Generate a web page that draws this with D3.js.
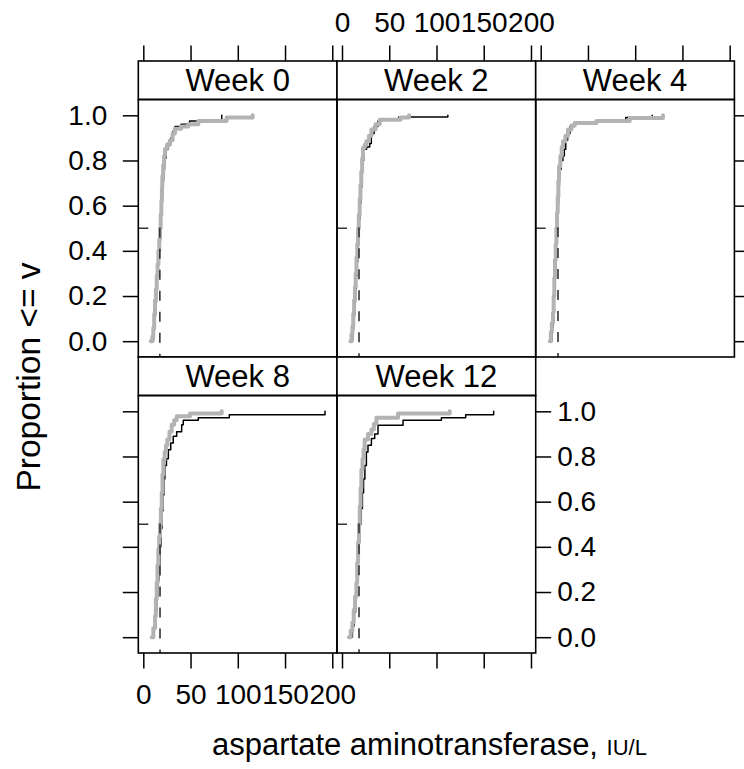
<!DOCTYPE html>
<html>
<head>
<meta charset="utf-8">
<script src="https://cdn.jsdelivr.net/npm/d3@7"></script>
<style>
  html, body { margin: 0; padding: 0; background: #fff; }
  svg { display: block; font-family: "Liberation Sans", Arial, Helvetica, sans-serif; }
</style>
</head>
<body>
<svg id="chart" width="744" height="769"></svg>
<script>
// Panels (conditioning levels), in reading order
const panels = ["Week 0", "Week 2", "Week 4", "Week 8", "Week 12"];

// Axis ticks
const xTicks = [0, 50, 100, 150, 200];
const yTicks = [0, 0.2, 0.4, 0.6, 0.8, 1.0];

// Median value per panel (dashed reference at proportion 0.5)
const medians = [17.5, 18.0, 18.3, 17.7, 18.0];

// Empirical CDF knots, group 1 (black): values (IU/L) and cumulative proportions
const blackX = [
  [9.0, 10.8, 11.8, 12.8, 13.8, 14.7, 15.6, 16.5, 17.4, 18.2, 19.0, 19.8, 20.6, 21.5, 22.5, 24.0, 26.5, 29.0, 31.5, 33.5, 40.0, 49.0, 83.0],
  [9.5, 11.2, 12.2, 13.2, 14.1, 15.0, 15.8, 16.6, 17.4, 18.2, 19.1, 20.0, 21.0, 21.5, 23.0, 26.0, 29.3, 31.0, 34.0, 38.0, 40.0, 60.0, 112.0],
  [10.2, 11.8, 13.3, 14.1, 14.9, 15.7, 16.5, 17.3, 18.1, 18.9, 19.8, 21.5, 23.5, 25.0, 26.5, 28.5, 31.0, 36.0, 63.5, 90.0, 118.0],
  [9.5, 11.5, 13.0, 14.2, 15.3, 16.4, 17.5, 18.6, 19.7, 20.8, 21.8, 22.8, 24.5, 26.5, 29.0, 31.7, 35.3, 40.6, 42.3, 58.2, 91.0, 192.3],
  [8.5, 11.0, 12.8, 14.3, 15.6, 16.8, 18.0, 19.2, 20.4, 21.6, 22.8, 24.2, 25.8, 27.5, 31.1, 34.6, 38.1, 64.6, 105.2, 130.9, 160.5]
];
const blackP = [
  [0, 0.05, 0.11, 0.17, 0.23, 0.29, 0.35, 0.41, 0.47, 0.53, 0.59, 0.65, 0.71, 0.76, 0.81, 0.85, 0.88, 0.90, 0.93, 0.95, 0.96, 0.975, 1.0],
  [0, 0.05, 0.11, 0.17, 0.23, 0.29, 0.35, 0.42, 0.48, 0.54, 0.61, 0.68, 0.74, 0.80, 0.85, 0.86, 0.875, 0.92, 0.95, 0.975, 0.981, 0.993, 1.0],
  [0, 0.06, 0.13, 0.21, 0.29, 0.37, 0.45, 0.53, 0.61, 0.69, 0.76, 0.80, 0.82, 0.85, 0.89, 0.92, 0.95, 0.969, 0.98, 0.99, 1.0],
  [0, 0.05, 0.11, 0.18, 0.25, 0.32, 0.40, 0.48, 0.56, 0.63, 0.70, 0.76, 0.79, 0.83, 0.86, 0.89, 0.91, 0.94, 0.96, 0.971, 0.985, 1.0],
  [0, 0.05, 0.11, 0.18, 0.26, 0.34, 0.42, 0.50, 0.57, 0.64, 0.70, 0.76, 0.82, 0.85, 0.88, 0.90, 0.938, 0.96, 0.971, 0.985, 1.0]
];

// Empirical CDF knots, group 2 (grey)
const grayX = [
  [7.8, 9.5, 10.6, 11.5, 12.4, 13.3, 14.2, 15.1, 16.0, 16.9, 17.7, 18.4, 19.1, 19.7, 20.1, 21.0, 22.0, 22.9, 25.0, 28.2, 31.0, 33.5, 40.0, 47.6, 58.2, 88.2, 115.7],
  [8.9, 10.0, 11.0, 11.9, 12.8, 13.7, 14.5, 15.3, 16.2, 17.0, 17.8, 18.7, 19.5, 20.4, 21.3, 22.2, 24.0, 25.8, 28.5, 31.1, 35.5, 39.9, 62.0, 70.9],
  [9.5, 10.7, 11.8, 13.0, 13.7, 14.4, 15.1, 15.9, 16.6, 17.3, 18.0, 18.7, 19.4, 20.8, 22.2, 23.6, 26.2, 28.9, 32.5, 36.0, 58.9, 94.2, 129.4],
  [8.9, 10.6, 12.4, 13.3, 14.2, 15.0, 15.9, 16.8, 17.7, 18.6, 19.5, 20.3, 21.2, 22.6, 24.0, 25.4, 27.7, 30.0, 32.6, 35.3, 49.4, 83.0],
  [7.4, 9.2, 11.0, 12.4, 13.8, 15.2, 16.1, 17.0, 18.0, 18.8, 19.7, 20.5, 21.7, 22.8, 24.0, 27.5, 31.1, 33.7, 36.4, 59.3, 114.0]
];
const grayP = [
  [0, 0.02, 0.06, 0.12, 0.18, 0.23, 0.29, 0.34, 0.40, 0.45, 0.50, 0.56, 0.62, 0.68, 0.73, 0.78, 0.82, 0.85, 0.87, 0.89, 0.92, 0.94, 0.95, 0.96, 0.975, 0.99, 1.0],
  [0, 0.03, 0.066, 0.12, 0.18, 0.24, 0.30, 0.37, 0.43, 0.50, 0.56, 0.63, 0.69, 0.75, 0.81, 0.856, 0.87, 0.885, 0.91, 0.937, 0.96, 0.98, 0.99, 1.0],
  [0, 0.04, 0.08, 0.126, 0.20, 0.28, 0.36, 0.43, 0.50, 0.57, 0.64, 0.71, 0.774, 0.82, 0.86, 0.885, 0.91, 0.937, 0.955, 0.966, 0.975, 0.988, 1.0],
  [0, 0.04, 0.094, 0.17, 0.24, 0.32, 0.39, 0.445, 0.50, 0.57, 0.64, 0.72, 0.787, 0.82, 0.85, 0.875, 0.91, 0.94, 0.96, 0.978, 0.99, 1.0],
  [0, 0.03, 0.065, 0.12, 0.18, 0.24, 0.33, 0.42, 0.50, 0.58, 0.66, 0.742, 0.79, 0.83, 0.875, 0.90, 0.919, 0.945, 0.971, 0.99, 1.0]
];

// ---- layout ----
const svg = d3.select("#chart");
const colLeft = 138.3, colW = 198.7;
const topY = 61, stripH = 38.5, plotH = 257.5;
const nCol = 3, nRow = 2;
const tickLen = 15.5;
const tickFont = 28, stripFont = 31;

const x = d3.scaleLinear().domain([-5.3, 205]).range([0, colW]);
const y = d3.scaleLinear().domain([-0.07, 1.07]).range([plotH, 0]);

const stepLine = d3.line()
  .x(d => x(d[0]))
  .y(d => y(d[1]))
  .curve(d3.curveStepAfter);

const fmtY = d3.format(".1f");

function styleAxis(g, showLabels) {
  g.select(".domain").remove();
  g.selectAll(".tick line").attr("stroke", "#000").attr("stroke-width", 1.5);
  g.selectAll(".tick text")
    .attr("fill", "#000")
    .style("font-size", tickFont + "px")
    .style("font-family", "'Liberation Sans', Arial, Helvetica, sans-serif");
  if (!showLabels) g.selectAll(".tick text").remove();
}

const defs = svg.append("defs");

panels.forEach((name, i) => {
  const col = i % nCol, row = Math.floor(i / nCol);
  const px = colLeft + col * colW;
  const sy = topY + row * (stripH + plotH);
  const py = sy + stripH;

  // strip
  svg.append("rect")
    .attr("x", px).attr("y", sy).attr("width", colW).attr("height", stripH)
    .attr("fill", "#fff").attr("stroke", "#000").attr("stroke-width", 1.6);
  svg.append("text")
    .attr("x", px + colW / 2).attr("y", sy + stripH / 2 + 11)
    .attr("text-anchor", "middle")
    .style("font-size", stripFont + "px")
    .text(name);

  const g = svg.append("g").attr("transform", `translate(${px},${py})`);

  defs.append("clipPath").attr("id", "clip" + i)
    .append("rect").attr("width", colW).attr("height", plotH);

  const lines = g.append("g").attr("clip-path", `url(#clip${i})`);

  const blackPts = blackX[i].map((v, k) => [v, blackP[i][k]]);
  const grayPts = grayX[i].map((v, k) => [v, grayP[i][k]]);

  lines.append("path")
    .attr("d", stepLine(blackPts))
    .attr("fill", "none").attr("stroke", "#000").attr("stroke-width", 1.5)
    .attr("stroke-linejoin", "round").attr("stroke-linecap", "round");

  lines.append("path")
    .attr("d", stepLine(grayPts))
    .attr("fill", "none").attr("stroke", "#b3b3b3").attr("stroke-width", 4)
    .attr("stroke-linejoin", "round").attr("stroke-linecap", "round");

  // median reference: across at 0.5, then down to the panel floor
  const mx = x(medians[i]), my = y(0.5);
  lines.append("path")
    .attr("d", `M0,${my}H${mx}V${plotH}`)
    .attr("fill", "none").attr("stroke", "#333").attr("stroke-width", 1.6)
    .attr("stroke-dasharray", "10,11");

  // panel border
  g.append("rect")
    .attr("width", colW).attr("height", plotH)
    .attr("fill", "none").attr("stroke", "#000").attr("stroke-width", 1.6);

  // top axis on the top row (labels in the middle column)
  if (row === 0) {
    const a = svg.append("g").attr("transform", `translate(${px},${topY})`)
      .call(d3.axisTop(x).tickValues(xTicks).tickSize(tickLen).tickPadding(13.5));
    styleAxis(a, col === 1);
  }
  // bottom axis under the panels of the last row (labels in the first column)
  if (row === nRow - 1) {
    const a = svg.append("g").attr("transform", `translate(${px},${py + plotH})`)
      .call(d3.axisBottom(x).tickValues(xTicks).tickSize(tickLen).tickPadding(15.5));
    styleAxis(a, col === 0);
  }
  // left axis on the first column (labels on the top row)
  if (col === 0) {
    const a = g.append("g")
      .call(d3.axisLeft(y).tickValues(yTicks).tickFormat(fmtY).tickSize(tickLen).tickPadding(15.5));
    styleAxis(a, row === 0);
  }
  // right axis on the last panel of each row (labels on the bottom row)
  const lastInRow = (i === panels.length - 1) || col === nCol - 1;
  if (lastInRow) {
    const a = g.append("g").attr("transform", `translate(${colW},0)`)
      .call(d3.axisRight(y).tickValues(yTicks).tickFormat(fmtY).tickSize(tickLen).tickPadding(6));
    styleAxis(a, row === 1);
  }
});

// axis titles
const xl = svg.append("text")
  .attr("x", 212).attr("y", 755)
  .style("font-size", "31px");
xl.append("tspan").text("aspartate aminotransferase, ");
xl.append("tspan").style("font-size", "22px").text("IU/L");

svg.append("text")
  .attr("transform", "translate(40,377) rotate(-90)")
  .attr("text-anchor", "middle")
  .style("font-size", "33.5px")
  .text("Proportion <= v");
</script>
</body>
</html>
